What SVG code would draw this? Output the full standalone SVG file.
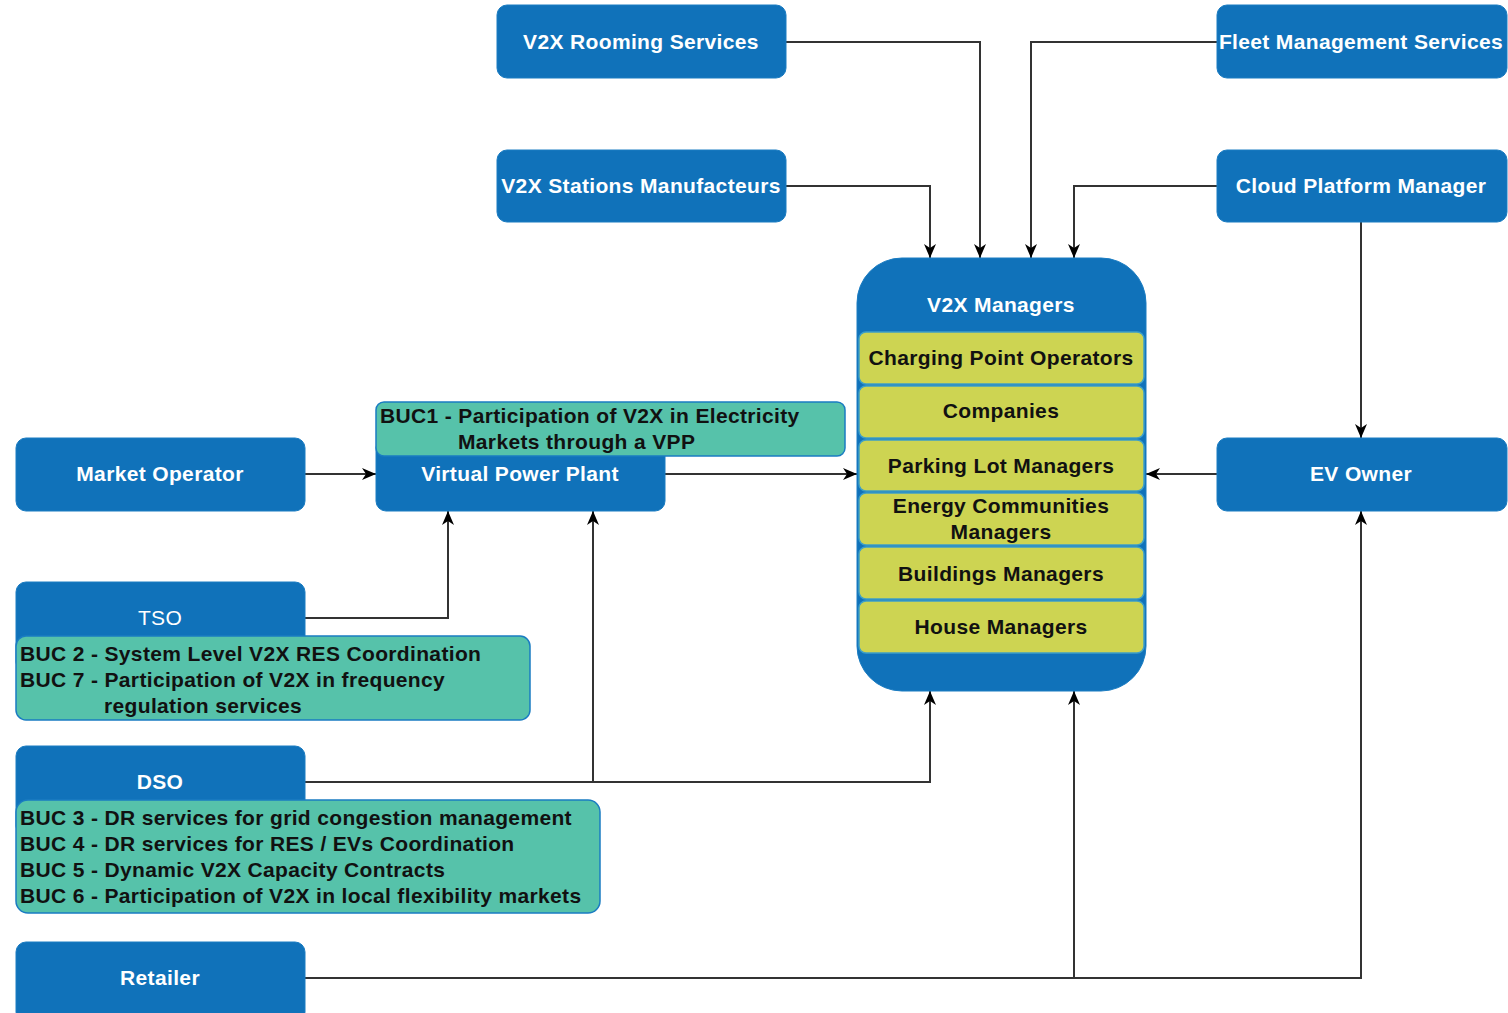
<svg xmlns="http://www.w3.org/2000/svg" width="1508" height="1013" viewBox="0 0 1508 1013">
<defs>
<marker id="arr" markerUnits="userSpaceOnUse" markerWidth="16" markerHeight="16" viewBox="0 0 16 16" refX="14" refY="8" orient="auto">
<path d="M0,2 L14,8 L0,14 L4,8 z" fill="#000"/>
</marker>
<style>
.node{fill:#1072BA;stroke:#1A7CC2;stroke-width:1}
.buc{fill:#56C2AA;stroke:#1A7CC2;stroke-width:1.5}
.item{fill:#CDD452;stroke:#3D9FC8;stroke-width:1.5}
text{font-family:"Liberation Sans",Arial,sans-serif;font-size:21px;letter-spacing:0.35px}
.t{font-weight:bold;fill:#fff;text-anchor:middle}
.tr{fill:#fff;text-anchor:middle}
.k{font-weight:bold;fill:#111;text-anchor:middle}
.b{font-weight:bold;fill:#111}
.c{fill:none;stroke:#333;stroke-width:2}
</style>
</defs>
<rect width="1508" height="1013" fill="#fff"/>

<g id="connectors">
<path class="c" d="M786,42 H980 V258" marker-end="url(#arr)"/>
<path class="c" d="M786,186 H930 V258" marker-end="url(#arr)"/>
<path class="c" d="M1217,42 H1031 V258" marker-end="url(#arr)"/>
<path class="c" d="M1217,186 H1074 V258" marker-end="url(#arr)"/>
<path class="c" d="M1361,222 V438" marker-end="url(#arr)"/>
<path class="c" d="M305,474 H376" marker-end="url(#arr)"/>
<path class="c" d="M665,474 H857" marker-end="url(#arr)"/>
<path class="c" d="M1217,474 H1146" marker-end="url(#arr)"/>
<path class="c" d="M305,618 H448 V511" marker-end="url(#arr)"/>
<path class="c" d="M305,782 H593 V511" marker-end="url(#arr)"/>
<path class="c" d="M593,782 H930 V691" marker-end="url(#arr)"/>
<path class="c" d="M305,978 H1074 V691" marker-end="url(#arr)"/>
<path class="c" d="M1074,978 H1361 V511" marker-end="url(#arr)"/>
</g>

<g id="v2x-rooming">
<rect class="node" x="497" y="5" width="289" height="73" rx="10"/>
<text class="t" x="641" y="49">V2X Rooming Services</text>
</g>
<g id="v2x-stations">
<rect class="node" x="497" y="150" width="289" height="72" rx="10"/>
<text class="t" x="641" y="193">V2X Stations Manufacteurs</text>
</g>
<g id="fleet">
<rect class="node" x="1217" y="5" width="290" height="73" rx="10"/>
<text class="t" x="1361" y="49">Fleet Management Services</text>
</g>
<g id="cloud">
<rect class="node" x="1217" y="150" width="290" height="72" rx="10"/>
<text class="t" x="1361" y="193">Cloud Platform Manager</text>
</g>

<g id="v2x-managers">
<rect class="node" x="857" y="258" width="289" height="433" rx="45"/>
<text class="t" x="1001" y="312">V2X Managers</text>
<rect class="item" x="859" y="332" width="285" height="52" rx="7"/>
<text class="k" x="1001" y="365">Charging Point Operators</text>
<rect class="item" x="859" y="386" width="285" height="52" rx="7"/>
<text class="k" x="1001" y="418">Companies</text>
<rect class="item" x="859" y="440" width="285" height="51" rx="7"/>
<text class="k" x="1001" y="473">Parking Lot Managers</text>
<rect class="item" x="859" y="493" width="285" height="52" rx="7"/>
<text class="k" x="1001" y="513">Energy Communities</text>
<text class="k" x="1001" y="539">Managers</text>
<rect class="item" x="859" y="547" width="285" height="52" rx="7"/>
<text class="k" x="1001" y="581">Buildings Managers</text>
<rect class="item" x="859" y="601" width="285" height="52" rx="7"/>
<text class="k" x="1001" y="634">House Managers</text>
</g>

<g id="market-operator">
<rect class="node" x="16" y="438" width="289" height="73" rx="10"/>
<text class="t" x="160" y="481">Market Operator</text>
</g>

<g id="vpp">
<rect class="node" x="376" y="438" width="289" height="73" rx="10"/>
<text class="t" x="520" y="481">Virtual Power Plant</text>
<rect class="buc" x="376" y="402" width="469" height="54" rx="8"/>
<text class="b" x="380" y="423">BUC1 - Participation of V2X in Electricity</text>
<text class="b" x="458" y="449">Markets through a VPP</text>
</g>

<g id="ev-owner">
<rect class="node" x="1217" y="438" width="290" height="73" rx="10"/>
<text class="t" x="1361" y="481">EV Owner</text>
</g>

<g id="tso">
<rect class="node" x="16" y="582" width="289" height="90" rx="10"/>
<text class="tr" x="160" y="625">TSO</text>
<rect class="buc" x="16" y="636" width="514" height="84" rx="10"/>
<text class="b" x="20" y="661">BUC 2 - System Level V2X RES Coordination</text>
<text class="b" x="20" y="687">BUC 7 - Participation of V2X in frequency</text>
<text class="b" x="104" y="713">regulation services</text>
</g>

<g id="dso">
<rect class="node" x="16" y="746" width="289" height="90" rx="10"/>
<text class="t" x="160" y="789">DSO</text>
<rect class="buc" x="16" y="800" width="584" height="113" rx="12"/>
<text class="b" x="20" y="825">BUC 3 - DR services for grid congestion management</text>
<text class="b" x="20" y="851">BUC 4 - DR services for RES / EVs Coordination</text>
<text class="b" x="20" y="877">BUC 5 - Dynamic V2X Capacity Contracts</text>
<text class="b" x="20" y="903">BUC 6 - Participation of V2X in local flexibility markets</text>
</g>

<g id="retailer">
<rect class="node" x="16" y="942" width="289" height="80" rx="10"/>
<text class="t" x="160" y="985">Retailer</text>
</g>
</svg>
